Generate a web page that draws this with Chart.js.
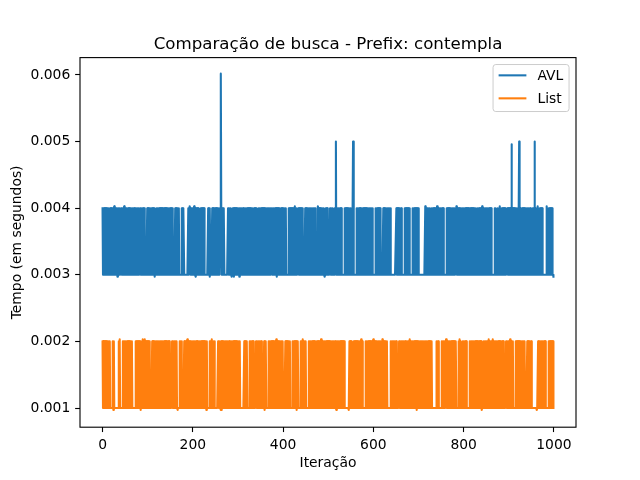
<!DOCTYPE html>
<html>
<head>
<meta charset="utf-8">
<script src="https://cdn.jsdelivr.net/npm/chart.js"></script>
<style>
  html, body { margin: 0; padding: 0; background: #fff; }
  canvas { display: block; }
</style>
</head>
<body>
<canvas id="chart" width="640" height="480"></canvas>
<script>
const titleText = "Comparação de busca - Prefix: contempla";
const xLabel = "Iteração";
const yLabel = "Tempo (em segundos)";
const seriesNames = ["AVL", "List"];
const seriesColors = ["#1f77b4", "#ff7f0e"];
const xTicks = [0, 200, 400, 600, 800, 1000];
const yTicks = [0.001, 0.002, 0.003, 0.004, 0.005, 0.006];

// one character per iteration (50 per row)
const avlLevels = { "3": 0.00300, "4": 0.00400, "h": 0.00403, "l": 0.00297, "5": 0.00500, "e": 0.00496, "6": 0.00602 };
const avlRows = [
  "4343434343 4343433434 343434h343 434l434343 34343434h3",
  "4343434434 3434343434 4343434343 4334343434 4343333334",
  "3434343434 43434l4333 4343434343 4343443434 3434343434",
  "4343433333 3434343434 3333343434 4333333333 434h434343",
  "434h434l43 4343333434 3434343333 3333434l43 3334343434",
  "4343433343 3464343434 3333333343 434343l343 4l43434343",
  "434l434343 4343443434 3434343434 3434334343 4343334343",
  "4343434343 4343434343 4343443434 343434l434 3434334343",
  "4343434333 3343434343 434343h343 4333434343 4343333334",
  "3434343434 3434434343 4343333h43 4343434343 43l3434343",
  "3333434343 4333434534 3434343434 3333334343 4343434343",
  "4343454333 3334343434 3434434343 4343434343 4343434343",
  "3333343434 3434343333 3343434343 4343434343 3333333333",
  "3434343434 3443333334 3434343434 3333333434 3434343434",
  "3333333333 33333h3434 3434343334 3434343434 3h34343434",
  "3434343333 3343434343 4343434343 4333h34343 4343434343",
  "4343434343 4343443434 3434343433 3434343434 3h34343434",
  "3434343434 3433333334 3433334343 h343434343 4343333434",
  "343434e343 4343434343 4345343434 4343434343 4343434343",
  "3334343543 4343h34343 4343433333 3333h34343 434343433l"
];

const listLevels = { "1": 0.00100, "2": 0.00200, "h": 0.00203, "l": 0.00097 };
const listRows = [
  "2121212121 2121212111 1112l21111 11111121h1 1111121212",
  "1212121212 1212121111 1112121212 1212l2121h 121h121212",
  "1212111111 2121212121 2121221212 1212121212 1212112121",
  "1111212121 212121l111 1212121111 12121212h1 2121211121",
  "2121212121 2122121212 1212121212 l211111212 12h1212121",
  "1111112121 21l2l21212 1212121212 1212212121 2121212121",
  "2121211111 1111212121 2111112121 2121211111 2121212121",
  "212111112l 2121111121 2121212121 21212h1212 1212121212",
  "1111121212 1212121111 1212121212 l212111112 1212h12121",
  "2111111212 1212121212 1221212121 2121h12121 2121212121",
  "2121212121 21212121l2 1212121212 1212121111 111111l212",
  "1211112121 2121212121 212h121111 1112121212 1212121212",
  "h121212121 2121212121 h121212121 2111111112 1212121212",
  "1211111212 1212121212 1212212121 1h12121212 121212l212",
  "1212121212 1221212121 2121212112 1111111111 2121211111",
  "1121212121 1h12121212 1212121212 1212111112 1h12111121",
  "2121212111 1111212121 2121212121 2122121212 l111121212",
  "121212h121 21212h1212 1212121212 1211212121 1111212121",
  "212h121212 1111121212 1212121212 1212121111 1212121212",
  "2111111111 11l1121212 1212121212 1211111121 2121212121"
];

const PT = 100 / 72;
const FONT = "DejaVu Sans";

function decode(rows, levels) {
  const codes = rows.join("").replace(/ /g, "");
  return Array.from(codes, (c, i) => ({ x: i, y: levels[c] }));
}

const avlData = decode(avlRows, avlLevels);
const listData = decode(listRows, listLevels);

const decorations = {
  id: "decorations",
  afterDraw(chart) {
    const ctx = chart.ctx;
    const a = chart.chartArea;
    ctx.save();

    // axes frame
    ctx.strokeStyle = "#000";
    ctx.lineWidth = 0.8 * PT;
    ctx.strokeRect(a.left, a.top, a.right - a.left, a.bottom - a.top);

    ctx.fillStyle = "#000";
    ctx.textAlign = "center";
    ctx.textBaseline = "alphabetic";
    ctx.font = (12 * PT) + "px '" + FONT + "'";
    ctx.fillText(titleText, (a.left + a.right) / 2, a.top - 6 * PT);

    ctx.font = (10 * PT) + "px '" + FONT + "'";
    ctx.fillText(xLabel, (a.left + a.right) / 2, 466.5);

    ctx.save();
    ctx.translate(20.5, (a.top + a.bottom) / 2);
    ctx.rotate(-Math.PI / 2);
    ctx.fillText(yLabel, 0, 0);
    ctx.restore();

    // legend, upper right
    const em = 10 * PT;
    const boxW = 76;
    const boxH = 47;
    const bx = a.right - 0.5 * em - boxW;
    const by = a.top + 0.5 * em;
    ctx.beginPath();
    ctx.roundRect(bx, by, boxW, boxH, 0.2 * em);
    ctx.fillStyle = "rgba(255,255,255,0.8)";
    ctx.fill();
    ctx.strokeStyle = "#cccccc";
    ctx.lineWidth = 1;
    ctx.stroke();

    ctx.textAlign = "left";
    chart.data.datasets.forEach((ds, i) => {
      const ly = by + 10.8 + i * 23;
      const hx = bx + 0.4 * em;
      ctx.beginPath();
      ctx.moveTo(hx, ly);
      ctx.lineTo(hx + 2 * em, ly);
      ctx.strokeStyle = ds.borderColor;
      ctx.lineWidth = 1.5 * PT;
      ctx.stroke();
      ctx.fillStyle = "#000";
      ctx.fillText(ds.label, hx + 2.8 * em, ly + 5);
    });

    ctx.restore();
  }
};

const tickFont = { family: FONT, size: 10 * PT };
const gridOpts = {
  display: true,
  drawOnChartArea: false,
  drawTicks: true,
  tickLength: 3.5 * PT,
  tickWidth: 0.8 * PT,
  tickColor: "#000"
};

new Chart(document.getElementById("chart"), {
  type: "line",
  data: {
    datasets: [
      { label: seriesNames[0], data: avlData, borderColor: seriesColors[0] },
      { label: seriesNames[1], data: listData, borderColor: seriesColors[1] }
    ]
  },
  options: {
    responsive: false,
    animation: false,
    devicePixelRatio: 1,
    layout: { padding: { left: 0, right: 64, top: 57.6, bottom: 0 } },
    elements: {
      point: { radius: 0 },
      line: { borderWidth: 1.5 * PT, tension: 0, borderJoinStyle: "round", borderCapStyle: "square", fill: false }
    },
    plugins: {
      legend: { display: false },
      title: { display: false },
      tooltip: { enabled: false }
    },
    scales: {
      x: {
        type: "linear",
        min: -49.95,
        max: 1048.95,
        grid: gridOpts,
        border: { display: false },
        afterFit: s => { s.height = 52.8; },
        afterBuildTicks: s => { s.ticks = xTicks.map(v => ({ value: v })); },
        ticks: {
          autoSkip: false,
          maxRotation: 0,
          padding: 3.5 * PT,
          color: "#000",
          font: tickFont,
          callback: v => String(v)
        }
      },
      y: {
        type: "linear",
        min: 0.000712,
        max: 0.006261,
        grid: gridOpts,
        border: { display: false },
        afterFit: s => { s.width = 80; },
        afterBuildTicks: s => { s.ticks = yTicks.map(v => ({ value: v })); },
        ticks: {
          autoSkip: false,
          padding: 3.5 * PT,
          color: "#000",
          font: tickFont,
          callback: v => v.toFixed(3)
        }
      }
    }
  },
  plugins: [decorations]
});
</script>
</body>
</html>
